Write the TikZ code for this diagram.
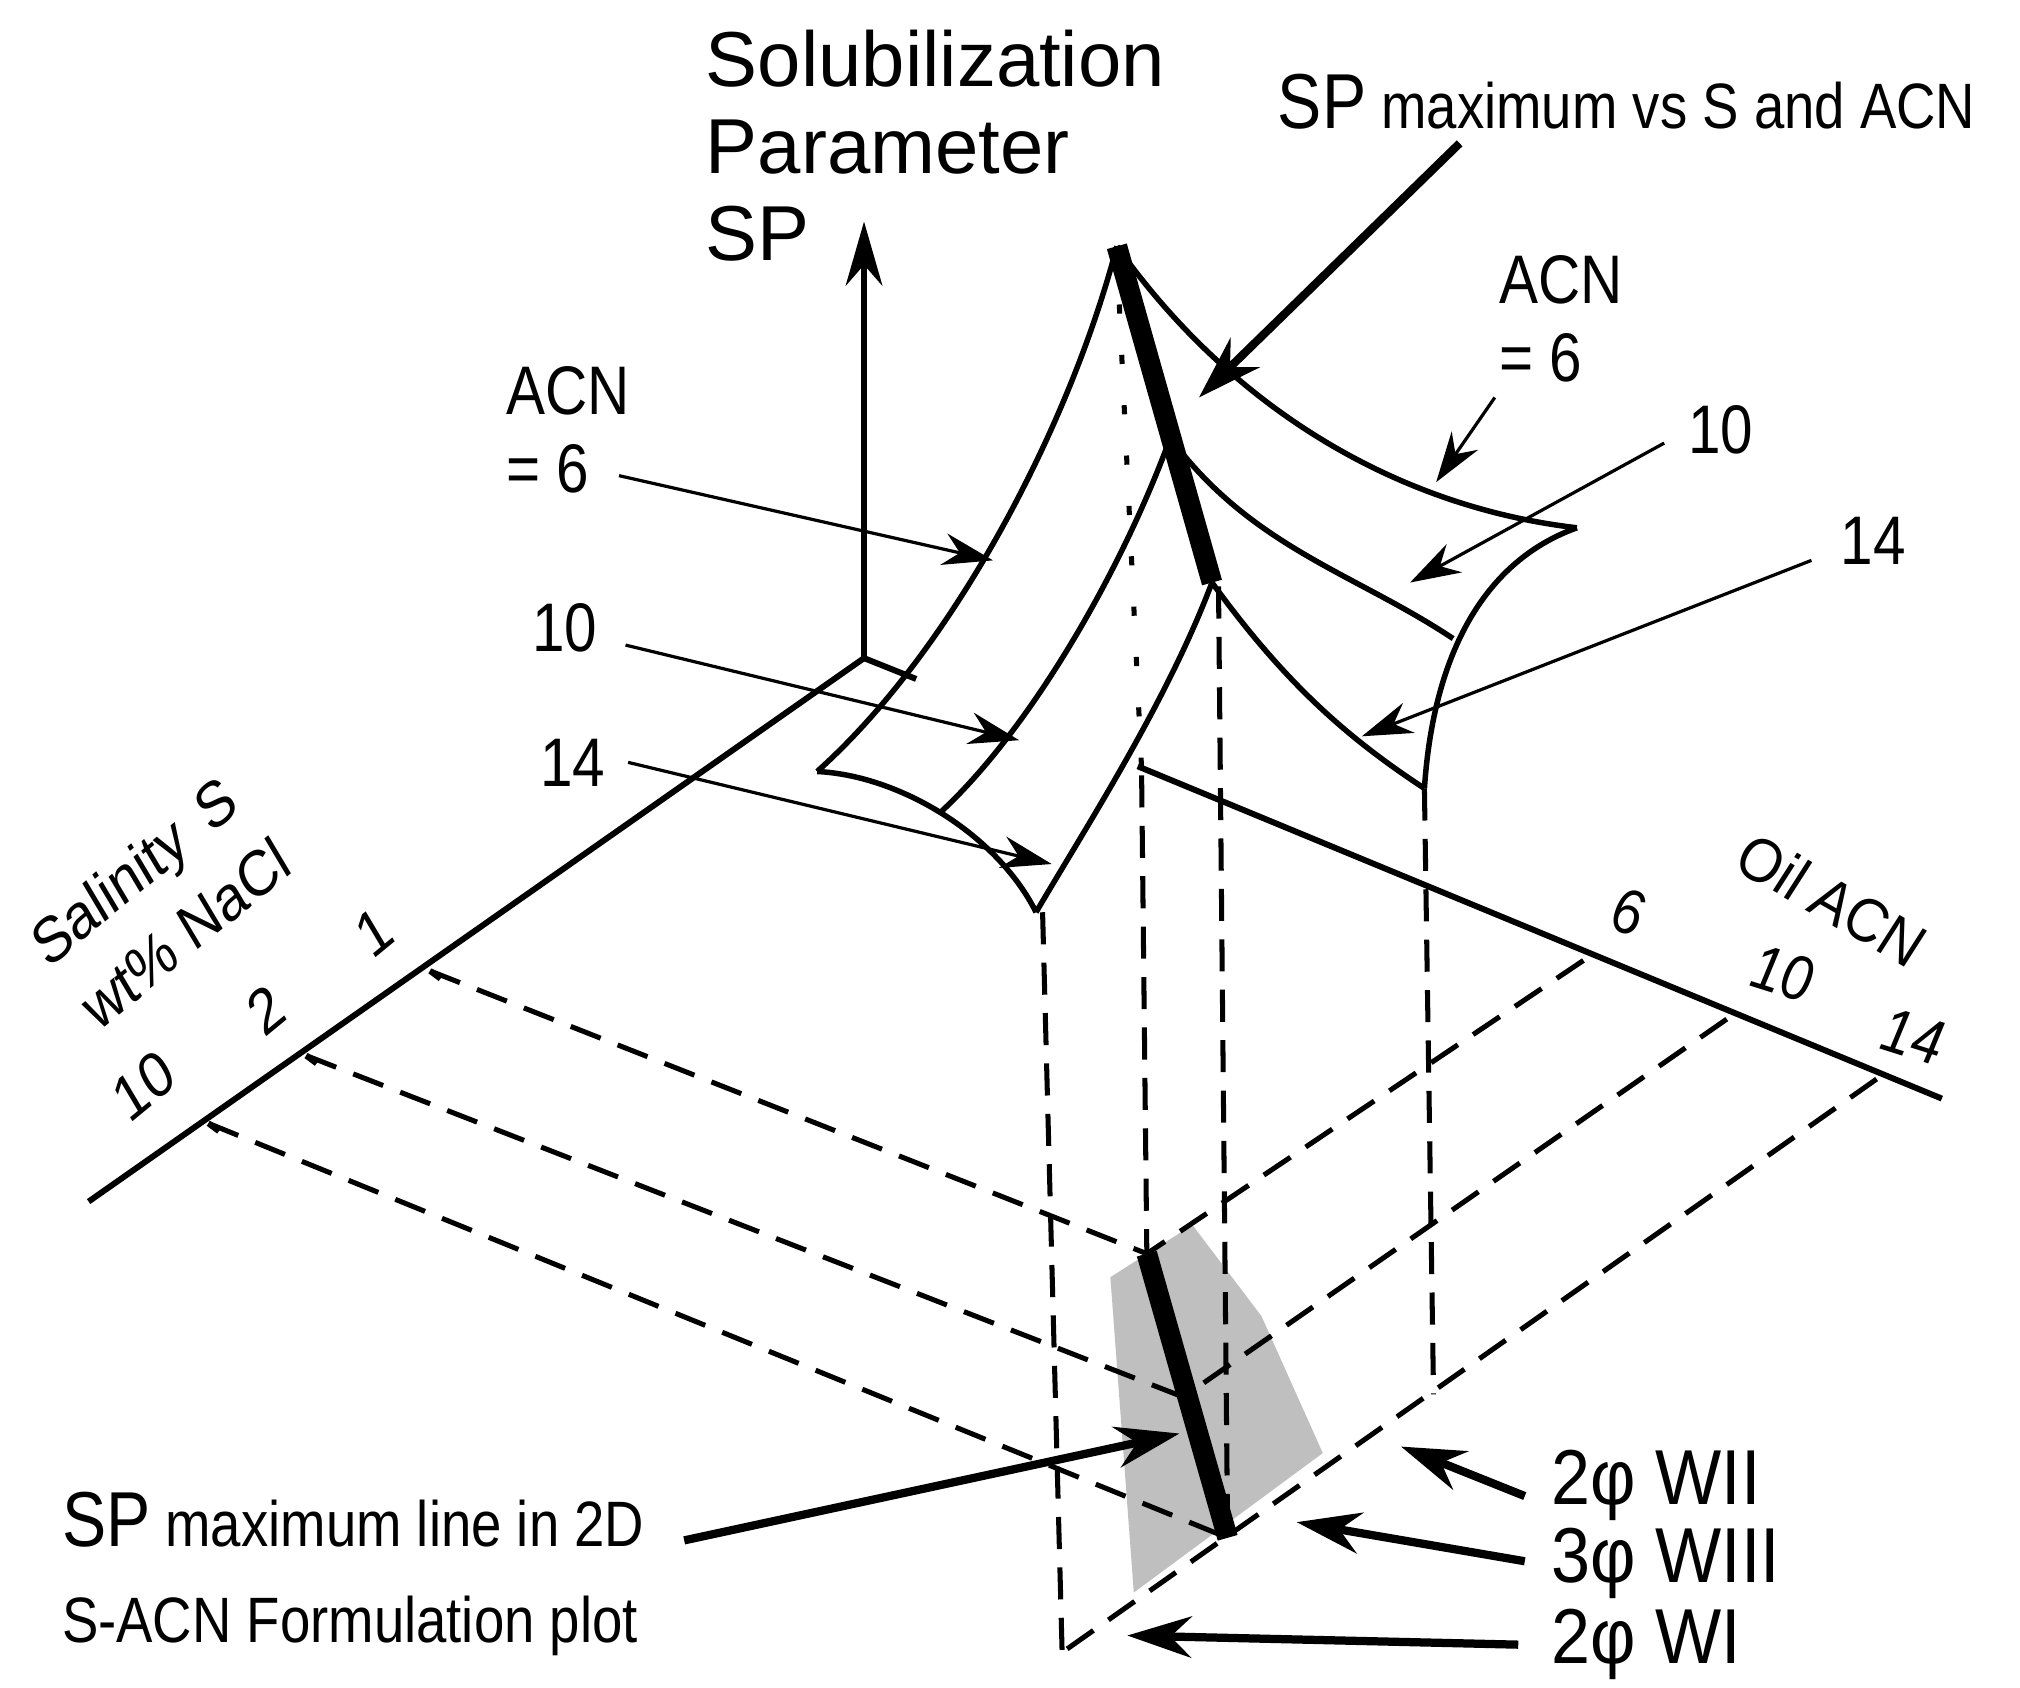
\documentclass[tikz,border=0pt]{standalone}
\usepackage{fontspec}
\setmainfont{Liberation Sans}
\usetikzlibrary{arrows.meta}
\begin{document}
\begin{tikzpicture}[x=0.01cm,y=-0.01cm,
  ax/.style={line width=1.3pt},
  edge/.style={line width=1.2pt},
  dsh/.style={line width=1.1pt,dash pattern=on 7pt off 4pt},
  thin arr/.style={line width=0.7pt,-{Stealth[length=11pt,width=7pt]}},
  thick arr/.style={line width=1.8pt,-{Stealth[length=14pt,width=9pt]}},
  lab/.style={font=\fontsize{14}{16}\selectfont,inner sep=0pt,xscale=0.85,transform shape},
  big/.style={font=\fontsize{17}{21}\selectfont,inner sep=0pt,align=left}]
\useasboundingbox (0,0) rectangle (1550,1295);
% grey region
\fill[gray!50] (915,940) -- (852,980) -- (870,1222) -- (1015,1115) -- (968,1010) -- cycle;
% coordinates
\coordinate (O) at (663,505);
\coordinate (Otop) at (663,170);
\coordinate (Send) at (68,922);
\coordinate (Aend) at (1490,843);
\coordinate (Astart) at (873,588);
\coordinate (s1) at (330,745);
\coordinate (s2) at (235,810);
\coordinate (s3) at (160,862);
\coordinate (a6) at (1215,737);
\coordinate (a10) at (1325,782);
\coordinate (a14) at (1440,828);
\coordinate (g1) at (880,962);
\coordinate (g2) at (908,1072);
\coordinate (g3) at (942,1180);
\coordinate (bc) at (815,1268);
% axes
\draw[ax,-{Stealth[length=14pt,width=8pt]}] (O) -- (Otop);
\draw[ax] (O) -- (Send);
\draw[ax] (O) -- (703,521);
\draw[ax] (Astart) -- (Aend);
\foreach \p in {s1,s2,s3}{\draw[ax] (\p) -- ++(8,6);}
% floor dashed grid
\draw[dsh] (s1) -- (g1);
\draw[dsh] (s2) -- (g2);
\draw[dsh] (s3) -- (g3);
\draw[dsh] (a6) -- (g1);
\draw[dsh] (a10) -- (g2);
\draw[dsh] (a14) -- (bc);
% vertical dashed drops
\draw[dsh] (800,700) -- (bc);
\draw[dsh] (876,595) -- (g1);
\draw[dsh] (935,450) -- (g3);
\draw[dsh] (1093,605) -- (1100,1070);
\draw[line width=1.1pt,dash pattern=on 2pt off 9pt] (857,195) -- (876,590);
% surface
\coordinate (pk) at (857,189);
\coordinate (m10) at (898,336);
\coordinate (m14) at (930,447);
\coordinate (bl) at (627,592);
\coordinate (bm) at (722,623);
\coordinate (bf) at (795,700);
\coordinate (rr) at (1210,405);
\coordinate (rm) at (1115,490);
\coordinate (rf) at (1093,605);
\draw[edge] (pk) .. controls (820,330) and (730,500) .. (bl);
\draw[edge] (m10) .. controls (860,440) and (790,560) .. (bm);
\draw[edge] (m14) .. controls (895,540) and (830,640) .. (bf);
\draw[edge] (bl) .. controls (690,595) and (765,640) .. (bf);
\draw[edge] (pk) .. controls (950,320) and (1080,390) .. (rr);
\draw[edge] (m10) .. controls (960,420) and (1040,440) .. (rm);
\draw[edge] (m14) .. controls (990,530) and (1040,570) .. (rf);
\draw[edge] (rr) .. controls (1140,430) and (1100,500) .. (rf);
\draw[line width=4.5pt] (pk) -- (m14);
\draw[line width=4.5pt] (g1) -- (g3);
% text
\node[big,anchor=north west] (title) at (541,22) {Solubilization\\[-2pt]Parameter\\[-2pt]SP};
\node[lab,anchor=west] (spmax) at (980,78) {{\fontsize{17}{20}\selectfont SP} maximum vs S and ACN};
\coordinate (spmaxtip) at (920,305);
\draw[thick arr] (1120,110) -- (spmaxtip);
\node[lab,anchor=west,align=left,font=\fontsize{15}{17}\selectfont] (L6) at (388,330) {ACN\\= 6};
\node[lab,anchor=west,font=\fontsize{15}{17}\selectfont] (L10) at (408,482) {10};
\node[lab,anchor=west,font=\fontsize{15}{17}\selectfont] (L14) at (414,585) {14};
\coordinate (t6) at (762,430); \coordinate (t10) at (782,568); \coordinate (t14) at (807,663);
\draw[thin arr] (475,365) -- (t6);
\draw[thin arr] (480,495) -- (t10);
\draw[thin arr] (482,585) -- (t14);
\node[lab,anchor=west,align=left,font=\fontsize{15}{17}\selectfont] (R6) at (1150,245) {ACN\\= 6};
\node[lab,anchor=west,font=\fontsize{15}{17}\selectfont] (R10) at (1295,330) {10};
\node[lab,anchor=west,font=\fontsize{15}{17}\selectfont] (R14) at (1412,415) {14};
\coordinate (u6) at (1102,370); \coordinate (u10) at (1082,447); \coordinate (u14) at (1045,565);
\draw[thin arr] (1147,305) -- (u6);
\draw[thin arr] (1277,340) -- (u10);
\draw[thin arr] (1390,430) -- (u14);
% salinity labels
\node[lab,rotate=35] (sal) at (105,672) {Salinity\, S};
\node[lab,rotate=35] (wt) at (142,716) {wt\% NaCl};
\node[lab,rotate=35] (n1) at (287,715) {1};
\node[lab,rotate=35] (n2) at (204,775) {2};
\node[lab,rotate=35] (n10) at (110,833) {10};
% oil ACN labels
\node[lab,rotate=-26,font=\fontsize{14}{16}\selectfont\itshape] (oil) at (1405,690) {Oil ACN};
\node[lab,rotate=-15,font=\fontsize{14}{16}\selectfont\itshape] (o6) at (1249,700) {6};
\node[lab,rotate=-15,font=\fontsize{14}{16}\selectfont\itshape] (o10) at (1368,747) {10};
\node[lab,rotate=-15,font=\fontsize{14}{16}\selectfont\itshape] (o14) at (1468,795) {14};
% bottom labels
\node[lab,anchor=west,align=left,font=\fontsize{14}{21}\selectfont] (sp2d) at (47,1208) {{\fontsize{17}{21}\selectfont SP} maximum line in 2D\\S-ACN Formulation plot};
\coordinate (sp2dtip) at (905,1100);
\draw[thick arr] (525,1182) -- (sp2dtip);
\node[big,anchor=west,xscale=0.9,transform shape] (w2) at (1190,1140) {2φ WII};
\node[big,anchor=west,xscale=0.9,transform shape] (w3) at (1190,1200) {3φ WIII};
\node[big,anchor=west,xscale=0.9,transform shape] (w1) at (1190,1262) {2φ WI};
\coordinate (tw2) at (1075,1110); \coordinate (tw3) at (995,1168); \coordinate (tw1) at (865,1255);
\draw[thick arr] (1170,1148) -- (tw2);
\draw[thick arr] (1170,1198) -- (tw3);
\draw[thick arr] (1165,1262) -- (tw1);
\end{tikzpicture}
\end{document}
